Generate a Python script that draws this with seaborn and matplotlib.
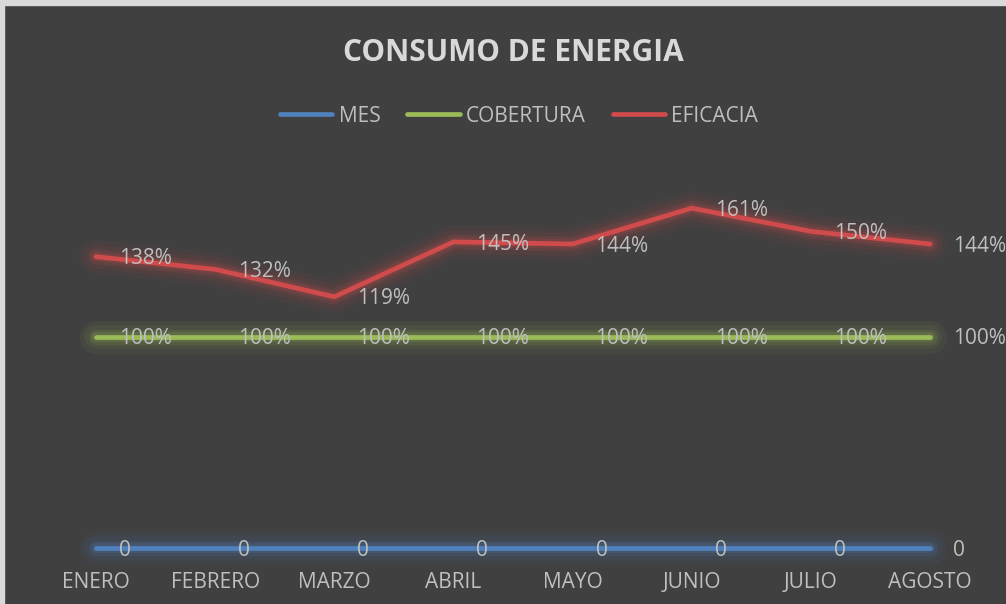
import matplotlib
matplotlib.use("Agg")
import matplotlib.pyplot as plt
import matplotlib.patheffects as pe
from matplotlib.patches import Rectangle
import seaborn as sns
import pandas as pd

meses = ["ENERO", "FEBRERO", "MARZO", "ABRIL", "MAYO", "JUNIO", "JULIO", "AGOSTO"]
mes = [0, 0, 0, 0, 0, 0, 0, 0]
cobertura = [1.00, 1.00, 1.00, 1.00, 1.00, 1.00, 1.00, 1.00]
eficacia = [1.38, 1.32, 1.19, 1.45, 1.44, 1.61, 1.50, 1.44]

series = {"MES": mes, "COBERTURA": cobertura, "EFICACIA": eficacia}
colores = {"MES": "#4f81bd", "COBERTURA": "#9bbb59", "EFICACIA": "#d04b4b"}

rows = []
for nombre, vals in series.items():
    for m, v in zip(meses, vals):
        rows.append({"mes": m, "serie": nombre, "valor": v})
df = pd.DataFrame(rows)

sns.set_theme(style="dark")
plt.rcParams["font.family"] = ["Open Sans", "DejaVu Sans"]
bg = "#404040"
txt = "#bfbfbf"

fig = plt.figure(figsize=(10.06, 6.04), dpi=100, facecolor=bg)
ax = fig.add_axes([0.0362, 0.0927, 0.9475, 0.6291])
ax.set_facecolor(bg)

sns.lineplot(data=df, x="mes", y="valor", hue="serie", palette=colores,
             sort=False, linewidth=3.4, ax=ax, legend=True)

for line in ax.lines:
    c = line.get_color()
    line.set_solid_capstyle("round")
    line.set_clip_on(False)
    line.set_path_effects([
        pe.Stroke(linewidth=24, foreground=c, alpha=0.06),
        pe.Stroke(linewidth=17, foreground=c, alpha=0.08),
        pe.Stroke(linewidth=11, foreground=c, alpha=0.12),
        pe.Stroke(linewidth=7, foreground=c, alpha=0.18),
        pe.Normal(),
    ])

# data labels to the right of each point
for nombre, vals in series.items():
    for i, v in enumerate(vals):
        lab = "0" if nombre == "MES" else f"{round(v * 100):d}%"
        ax.annotate(lab, (i, v), xytext=(16.5, -1.5), textcoords="offset points",
                    ha="left", va="center", fontsize=15, color=txt,
                    annotation_clip=False, clip_on=False)

ax.set_xlim(-0.5, 7.5)
ax.set_ylim(0, 1.8)
ax.set_yticks([])
ax.set_xlabel("")
ax.set_ylabel("")
ax.tick_params(axis="x", length=0, pad=17, labelsize=15, labelcolor=txt)
for s in ax.spines.values():
    s.set_visible(False)
ax.grid(False)

handles, labels = ax.get_legend_handles_labels()
for h in handles:
    h.set_linewidth(3.4)
    h.set_path_effects([])
leg = fig.legend(handles, labels, loc="center", bbox_to_anchor=(0.516, 1 - 116 / 604),
                 ncol=3, frameon=False, fontsize=15, handlelength=2.5,
                 handletextpad=0.3, columnspacing=1.3)
for t in leg.get_texts():
    t.set_color(txt)
ax.get_legend().remove()

fig.text(0.51, 1 - 53 / 604, "CONSUMO DE ENERGIA", ha="center", va="center",
         fontsize=21.5, fontweight="bold", color="#d9d9d9")

# light frame edge at left and top
fig.patches.append(Rectangle((0, 0), 4 / 1006, 1, transform=fig.transFigure,
                             color="#d9d9d9", zorder=10))
fig.patches.append(Rectangle((0, 1 - 5 / 604), 1, 5 / 604, transform=fig.transFigure,
                             color="#d9d9d9", zorder=10))

fig.savefig("out.png", dpi=100, facecolor=bg)
